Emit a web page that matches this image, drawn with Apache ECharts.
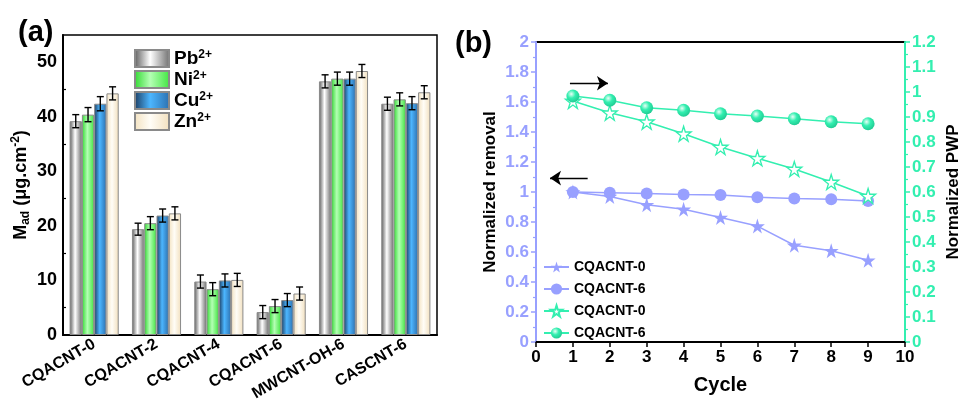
<!DOCTYPE html>
<html>
<head>
<meta charset="utf-8">
<script src="https://cdn.jsdelivr.net/npm/echarts@6/dist/echarts.min.js"></script>
<style>
  html, body { margin: 0; padding: 0; background: #fff; }
  #main { width: 963px; height: 407px; }
</style>
</head>
<body>
<div id="main"></div>
<script>
// ---- panel (a) data ----
const samples = ["CQACNT-0", "CQACNT-2", "CQACNT-4", "CQACNT-6", "MWCNT-OH-6", "CASCNT-6"];
const ions = ["Pb", "Ni", "Cu", "Zn"];
const pbValues = [39.2, 19.4, 9.8, 4.2, 46.5, 42.4];
const niValues = [40.4, 20.5, 8.4, 5.3, 47.0, 43.2];
const cuValues = [42.4, 21.9, 10.0, 6.4, 47.0, 42.5];
const znValues = [44.3, 22.3, 10.1, 7.6, 48.4, 44.5];
const pbErr = [1.2, 1.1, 1.2, 1.2, 1.2, 1.2];
const niErr = [1.3, 1.2, 1.2, 1.2, 1.2, 1.2];
const cuErr = [1.3, 1.2, 1.2, 1.2, 1.2, 1.2];
const znErr = [1.2, 1.2, 1.2, 1.2, 1.2, 1.2];

// ---- panel (b) data ----
const cycles = [1, 2, 3, 4, 5, 6, 7, 8, 9];
const removal0 = [1.0, 0.97, 0.915, 0.885, 0.83, 0.773, 0.645, 0.609, 0.545];
const removal6 = [1.0, 0.995, 0.99, 0.984, 0.98, 0.965, 0.956, 0.951, 0.94];
const pwp0 = [0.964, 0.917, 0.881, 0.833, 0.78, 0.735, 0.692, 0.64, 0.584];
const pwp6 = [0.984, 0.967, 0.937, 0.927, 0.913, 0.904, 0.893, 0.881, 0.873];

const LAV = "#98a0ff";
const GRN = "#33efb0";
const FONT = "Liberation Sans, Arial, sans-serif";
const BAR_FRAC = 0.197;
const STAR = "path://M50,0 L61,35 L98,35 L68,57 L79,91 L50,70 L21,91 L32,57 L2,35 L39,35 Z";

const barValues = [pbValues, niValues, cuValues, znValues];
const barErrors = [pbErr, niErr, cuErr, znErr];

function hGrad(a, b, c) {
  return {
    type: "linear", x: 0, y: 0, x2: 1, y2: 0,
    colorStops: [
      { offset: 0, color: a },
      { offset: 0.45, color: b },
      { offset: 1, color: c },
    ],
  };
}
const barColors = [
  hGrad("#5a5a5a", "#ffffff", "#6e6e6e"),
  hGrad("#2fd82f", "#b4ffb4", "#3fe53f"),
  hGrad("#1b3a5e", "#4cb6ff", "#2c6fae"),
  hGrad("#f3e2c0", "#fffdf7", "#f1dfbd"),
];

function errRender(idx) {
  return function (params, api) {
    const x = api.value(0);
    const top = api.coord([x, api.value(2)]);
    const bot = api.coord([x, api.value(1)]);
    const bw = api.size([1, 0])[0] * BAR_FRAC;
    const cx = top[0] - 2 * bw + (idx + 0.5) * bw;
    const cap = 3.5;
    const st = { stroke: "#000", lineWidth: 1.4 };
    return {
      type: "group",
      children: [
        { type: "line", shape: { x1: cx, y1: top[1], x2: cx, y2: bot[1] }, style: st },
        { type: "line", shape: { x1: cx - cap, y1: top[1], x2: cx + cap, y2: top[1] }, style: st },
        { type: "line", shape: { x1: cx - cap, y1: bot[1], x2: cx + cap, y2: bot[1] }, style: st },
      ],
    };
  };
}

const series = [];
ions.forEach((ion, i) => {
  series.push({
    name: ion,
    type: "bar",
    xAxisIndex: 0,
    yAxisIndex: 0,
    barWidth: (BAR_FRAC * 100) + "%",
    barGap: "0%",
    itemStyle: { color: barColors[i], borderColor: "#8a8a8a", borderWidth: 1 },
    data: barValues[i],
  });
});
ions.forEach((ion, i) => {
  series.push({
    type: "custom",
    xAxisIndex: 0,
    yAxisIndex: 0,
    renderItem: errRender(i),
    z: 5,
    data: barValues[i].map((v, k) => [k, v - barErrors[i][k], v + barErrors[i][k]]),
  });
});

const pairs = (ys) => cycles.map((c, k) => [c, ys[k]]);
series.push({
  name: "CQACNT-0 removal",
  type: "line",
  xAxisIndex: 1,
  yAxisIndex: 1,
  symbol: STAR,
  symbolSize: 15,
  lineStyle: { color: LAV, width: 1.5 },
  itemStyle: { color: LAV },
  data: pairs(removal0),
  markLine: {
    silent: true,
    symbol: ["none", "arrow"],
    symbolSize: 11,
    label: { show: false },
    lineStyle: { color: "#000", width: 1.3, type: "solid" },
    data: [
      [{ coord: [0.92, 1.725] }, { coord: [1.95, 1.725] }],
      [{ coord: [1.4, 1.093] }, { coord: [0.38, 1.093] }],
    ],
  },
});
series.push({
  name: "CQACNT-6 removal",
  type: "line",
  xAxisIndex: 1,
  yAxisIndex: 1,
  symbol: "circle",
  symbolSize: 12,
  lineStyle: { color: LAV, width: 1.5 },
  itemStyle: { color: LAV },
  data: pairs(removal6),
});
series.push({
  name: "CQACNT-0 PWP",
  type: "line",
  xAxisIndex: 1,
  yAxisIndex: 2,
  symbol: STAR,
  symbolSize: 15,
  lineStyle: { color: GRN, width: 1.5 },
  itemStyle: { color: "#fff", borderColor: GRN, borderWidth: 1.3 },
  data: pairs(pwp0),
});
series.push({
  name: "CQACNT-6 PWP",
  type: "line",
  xAxisIndex: 1,
  yAxisIndex: 2,
  symbol: "circle",
  symbolSize: 13,
  lineStyle: { color: GRN, width: 1.5 },
  itemStyle: {
    color: {
      type: "radial", x: 0.38, y: 0.35, r: 0.7,
      colorStops: [
        { offset: 0, color: "#e8fff6" },
        { offset: 0.45, color: GRN },
        { offset: 1, color: "#1fc890" },
      ],
    },
  },
  data: pairs(pwp6),
});

const boldText = { fontFamily: FONT, fontWeight: "bold", color: "#000" };

const option = {
  animation: false,
  textStyle: { fontFamily: FONT },
  title: [
    { text: "(a)", left: 13, top: 13, textStyle: { ...boldText, fontSize: 29 } },
    { text: "(b)", left: 450, top: 24, textStyle: { ...boldText, fontSize: 29 } },
  ],
  legend: [
    {
      data: ions,
      orient: "vertical",
      left: 129,
      top: 44,
      icon: "rect",
      itemWidth: 34,
      itemHeight: 17,
      itemGap: 2,
      selectedMode: false,
      formatter: (n) => "{b|" + n + "}{s|2+}",
      textStyle: {
        ...boldText,
        fontSize: 19,
        rich: {
          b: { fontFamily: FONT, fontWeight: "bold", fontSize: 19, color: "#000", lineHeight: 19 },
          s: { fontFamily: FONT, fontWeight: "bold", fontSize: 12, color: "#000", verticalAlign: "top", lineHeight: 19, padding: [0, 0, 7, 0] },
        },
      },
    },
    {
      data: ["CQACNT-0 removal", "CQACNT-6 removal", "CQACNT-0 PWP", "CQACNT-6 PWP"],
      orient: "vertical",
      left: 538,
      top: 255,
      itemWidth: 25,
      itemHeight: 14,
      itemGap: 8,
      selectedMode: false,
      formatter: (n) => n.split(" ")[0],
      textStyle: { ...boldText, fontSize: 14 },
    },
  ],
  grid: [
    { left: 63, top: 35, width: 374, height: 300, show: true, borderColor: "#000", borderWidth: 1.5 },
    { left: 536, top: 42, width: 371, height: 300, show: true, borderColor: "#000", borderWidth: 2 },
  ],
  xAxis: [
    {
      type: "category",
      gridIndex: 0,
      data: samples,
      axisLine: { lineStyle: { color: "#000", width: 2 } },
      axisTick: { alignWithLabel: true, inside: true, lineStyle: { color: "#000", width: 1.5 } },
      axisLabel: { ...boldText, fontSize: 16, rotate: 30, margin: 8, interval: 0 },
    },
    {
      type: "value",
      gridIndex: 1,
      min: 0,
      max: 10,
      interval: 1,
      splitLine: { show: false },
      axisLine: { lineStyle: { color: "#000", width: 2 } },
      axisTick: { lineStyle: { color: "#000", width: 1.5 }, length: 5 },
      axisLabel: { ...boldText, fontSize: 17, margin: 7 },
      name: "Cycle",
      nameLocation: "middle",
      nameGap: 33,
      nameTextStyle: { ...boldText, fontSize: 20 },
    },
  ],
  yAxis: [
    {
      type: "value",
      gridIndex: 0,
      min: 0,
      max: 55,
      interval: 10,
      splitLine: { show: false },
      axisLine: { show: true, lineStyle: { color: "#000", width: 2 } },
      axisTick: { inside: true, length: 4, lineStyle: { color: "#000", width: 1.5 } },
      minorTick: { show: true, splitNumber: 2, length: 3, lineStyle: { color: "#000", width: 1.2 } },
      axisLabel: { ...boldText, fontSize: 18, margin: 6, showMaxLabel: false },
      name: "{m|M}{d|ad}{m| (μg.cm}{u|-2}{m|)}",
      nameLocation: "middle",
      nameRotate: 90,
      nameGap: 31,
      nameTextStyle: {
        ...boldText,
        fontSize: 18,
        rich: {
          m: { fontFamily: FONT, fontWeight: "bold", fontSize: 18, color: "#000", lineHeight: 22 },
          d: { fontFamily: FONT, fontWeight: "bold", fontSize: 12, color: "#000", verticalAlign: "bottom", lineHeight: 22, padding: [6, 0, 0, 0] },
          u: { fontFamily: FONT, fontWeight: "bold", fontSize: 12, color: "#000", verticalAlign: "top", lineHeight: 22, padding: [0, 0, 7, 0] },
        },
      },
    },
    {
      type: "value",
      gridIndex: 1,
      position: "left",
      min: 0,
      max: 2,
      interval: 0.2,
      splitLine: { show: false },
      axisLine: { show: true, lineStyle: { color: LAV, width: 2 } },
      axisTick: { length: 5, lineStyle: { color: LAV, width: 1.5 } },
      minorTick: { show: true, splitNumber: 2, length: 3, lineStyle: { color: LAV, width: 1.2 } },
      axisLabel: { fontFamily: FONT, fontWeight: "bold", fontSize: 17, color: LAV, margin: 7 },
      name: "Normalized removal",
      nameLocation: "middle",
      nameRotate: 90,
      nameGap: 37,
      nameTextStyle: { ...boldText, fontSize: 17 },
    },
    {
      type: "value",
      gridIndex: 1,
      position: "right",
      min: 0,
      max: 1.2,
      interval: 0.1,
      splitLine: { show: false },
      axisLine: { show: true, lineStyle: { color: GRN, width: 2 } },
      axisTick: { length: 5, lineStyle: { color: GRN, width: 1.5 } },
      minorTick: { show: true, splitNumber: 2, length: 3, lineStyle: { color: GRN, width: 1.2 } },
      axisLabel: { fontFamily: FONT, fontWeight: "bold", fontSize: 17, color: GRN, margin: 7 },
      name: "Normalized PWP",
      nameLocation: "middle",
      nameRotate: 90,
      nameGap: 40,
      nameTextStyle: { ...boldText, fontSize: 17 },
    },
  ],
  series: series,
};

const chart = echarts.init(document.getElementById("main"));
chart.setOption(option);
</script>
</body>
</html>
